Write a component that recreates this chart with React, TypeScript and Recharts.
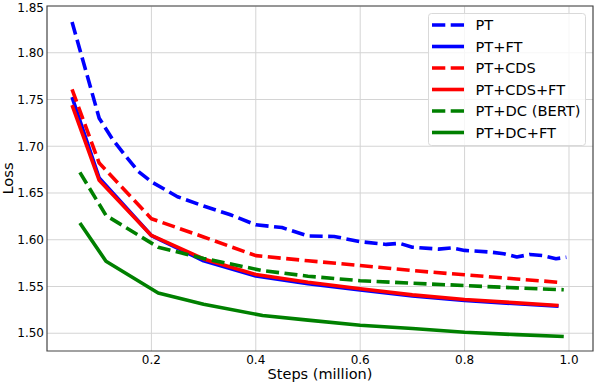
import React from 'react';
import { LineChart, Line, XAxis, YAxis, CartesianGrid, ReferenceArea } from 'recharts';

// steps in million, loss values
const ptSteps = [0.048, 0.1, 0.125, 0.15, 0.175, 0.2, 0.25, 0.3, 0.35, 0.4, 0.45, 0.5, 0.55, 0.6, 0.65, 0.675, 0.7, 0.75, 0.775, 0.8, 0.85, 0.875, 0.9, 0.925, 0.95, 0.975, 0.995];
const ptLoss = [1.833, 1.730, 1.708, 1.690, 1.673, 1.662, 1.646, 1.636, 1.627, 1.616, 1.613, 1.604, 1.6035, 1.598, 1.595, 1.5962, 1.592, 1.590, 1.5912, 1.5886, 1.5868, 1.585, 1.5815, 1.5843, 1.583, 1.5797, 1.5812];

const baseSteps = [0.048, 0.1, 0.2, 0.3, 0.4, 0.5, 0.6, 0.7, 0.8, 0.9, 0.98];
const ptFtLoss = [1.7525, 1.666, 1.6045, 1.5775, 1.5612, 1.553, 1.5462, 1.540, 1.535, 1.5315, 1.529];
const ptCdsLoss = [1.7607, 1.682, 1.6225, 1.603, 1.583, 1.5775, 1.5725, 1.567, 1.5625, 1.558, 1.5545];
const ptCdsFtLoss = [1.744, 1.6636, 1.6046, 1.5795, 1.5628, 1.5545, 1.5475, 1.541, 1.536, 1.5325, 1.5296];

const dcSteps = [0.063, 0.113, 0.213, 0.3, 0.413, 0.5, 0.6, 0.7, 0.8, 0.9, 0.99];
const ptDcLoss = [1.672, 1.626, 1.592, 1.580, 1.567, 1.561, 1.5562, 1.5535, 1.551, 1.5485, 1.5465];
const ptDcFtLoss = [1.618, 1.577, 1.543, 1.531, 1.519, 1.514, 1.5085, 1.505, 1.501, 1.4985, 1.4965];

const xTicks = [0.2, 0.4, 0.6, 0.8, 1.0];
const yTicks = [1.50, 1.55, 1.60, 1.65, 1.70, 1.75, 1.80, 1.85];

const X_MIN = 0;
const X_MAX = 1.046;
const Y_MIN = 1.481;
const Y_MAX = 1.85;

const FONT = 'DejaVu Sans';
const LABEL_SIZE = 14.5;
const DASH = '13 5.5';
const LINE_W = 3.6;

const toPoints = (steps: number[], loss: number[]) => steps.map((x, i) => ({ x, y: loss[i] }));

// textW: advance width of the label in em (DejaVu Sans)
const series = [
    { name: 'PT', color: '#0000ff', dashed: true, textW: 1.214, data: toPoints(ptSteps, ptLoss) },
    { name: 'PT+FT', color: '#0000ff', dashed: false, textW: 3.238, data: toPoints(baseSteps, ptFtLoss) },
    { name: 'PT+CDS', color: '#ff0000', dashed: true, textW: 4.155, data: toPoints(baseSteps, ptCdsLoss) },
    { name: 'PT+CDS+FT', color: '#ff0000', dashed: false, textW: 6.179, data: toPoints(baseSteps, ptCdsFtLoss) },
    { name: 'PT+DC (BERT)', color: '#008000', dashed: true, textW: 7.242, data: toPoints(dcSteps, ptDcLoss) },
    { name: 'PT+DC+FT', color: '#008000', dashed: false, textW: 5.544, data: toPoints(dcSteps, ptDcFtLoss) },
];

const LEG_X = 428;
const LEG_Y = 13;
const LEG_W = 158;
const LEG_H = 133;
const ROW = 21.5;

const labelText = {
    fontFamily: FONT,
    fontSize: LABEL_SIZE,
    fontWeight: 400,
    fill: '#000',
    lengthAdjust: 'spacingAndGlyphs' as const,
};

// legend box drawn straight into the chart svg, matplotlib style
const LegendBox = () => (
    <g transform={`translate(${LEG_X},${LEG_Y})`}>
        <rect x={0.5} y={0.5} width={LEG_W - 1} height={LEG_H - 1} rx={3} fill="#fff" fillOpacity={0.8} stroke="#d9d9d9" />
        {series.map((s, i) => {
            const cy = 12 + i * ROW;
            return (
                <g key={s.name}>
                    <line x1={4} y1={cy} x2={36} y2={cy} stroke={s.color} strokeWidth={LINE_W}
                        strokeDasharray={s.dashed ? '13.3 5.4' : undefined} />
                    <text x={47.5} y={cy + 5.3} {...labelText} textLength={s.textW * LABEL_SIZE}>{s.name}</text>
                </g>
            );
        })}
    </g>
);

const tickStyle = { fontFamily: FONT, fontSize: 12, fontWeight: 400, fill: '#000' };

export default function App() {
    return (
        <div style={{ position: 'absolute', left: 0, top: 0, background: '#fff' }}>
            <LineChart width={594} height={384} margin={{ top: 6, right: 1, left: 0, bottom: 0 }}>
                <CartesianGrid stroke="#d4d4d4" strokeWidth={1} verticalValues={xTicks} horizontalValues={yTicks} />
                <XAxis
                    type="number"
                    dataKey="x"
                    domain={[X_MIN, X_MAX]}
                    ticks={xTicks}
                    tickFormatter={(v: number) => v.toFixed(1)}
                    tick={tickStyle}
                    tickSize={0}
                    tickMargin={4}
                    axisLine={false}
                    height={33}
                    allowDataOverflow
                    label={{
                        content: () => (
                            <text x={320} y={378.5} textAnchor="middle" {...labelText} textLength={7.228 * LABEL_SIZE}>
                                Steps (million)
                            </text>
                        )
                    }}
                />
                <YAxis
                    type="number"
                    domain={[Y_MIN, Y_MAX]}
                    ticks={yTicks}
                    tickFormatter={(v: number) => v.toFixed(2)}
                    tick={tickStyle}
                    tickSize={0}
                    tickMargin={3}
                    axisLine={false}
                    width={47}
                    allowDataOverflow
                    label={{
                        content: () => (
                            <text x={13} y={178.5} transform="rotate(-90 13 178.5)" textAnchor="middle"
                                {...labelText} textLength={2.211 * LABEL_SIZE}>
                                Loss
                            </text>
                        )
                    }}
                />
                {series.map(s => (
                    <Line
                        key={s.name}
                        data={s.data}
                        dataKey="y"
                        name={s.name}
                        type="linear"
                        stroke={s.color}
                        strokeWidth={LINE_W}
                        strokeDasharray={s.dashed ? DASH : undefined}
                        strokeLinejoin="round"
                        dot={false}
                        activeDot={false}
                        isAnimationActive={false}
                    />
                ))}
                <ReferenceArea x1={X_MIN} x2={X_MAX} y1={Y_MIN} y2={Y_MAX} fill="none" stroke="#444" strokeWidth={1.2} />
                <LegendBox />
            </LineChart>
        </div>
    );
}
